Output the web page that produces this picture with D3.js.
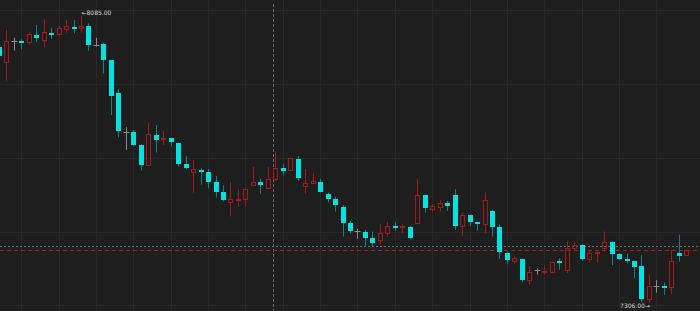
<!DOCTYPE html>
<html>
<head>
<meta charset="utf-8">
<script src="https://cdn.jsdelivr.net/npm/d3@7"></script>
<style>
  body { margin: 0; background: #1e1e1e; }
  #graph { width: 700px; height: 311px; }
</style>
</head>
<body>
<div id="graph"></div>
<script>
// ohlc values
const open = [
  8002, 7959, 8017, 8017, 8014, 8033, 8019, 8040, 8037, 8051,
  8056, 8052, 8058, 8006, 8008, 7965, 7875, 7769, 7770, 7734,
  7681, 7762, 7749, 7753, 7740, 7683, 7660, 7667, 7662, 7634,
  7607, 7579, 7586, 7589, 7626, 7635, 7619, 7644, 7672, 7666,
  7697, 7622, 7631, 7635, 7603, 7587, 7567, 7523, 7501, 7499,
  7483, 7475, 7494, 7514, 7510, 7512, 7522, 7599, 7562, 7567,
  7578, 7600, 7516, 7545, 7525, 7520, 7557, 7513, 7442, 7421,
  7426, 7368, 7395, 7390, 7391, 7419, 7394, 7455, 7463, 7425,
  7440, 7456, 7471, 7439, 7425, 7419, 7407, 7317, 7352, 7353,
  7350, 7443, 7436
];
const close = [
  7977, 8017, 8017, 8011, 8035, 8026, 8041, 8036, 8052, 8058,
  8051, 8058, 8007, 8006, 7965, 7866, 7771, 7769, 7736, 7681,
  7764, 7748, 7753, 7742, 7683, 7671, 7669, 7661, 7634, 7607,
  7586, 7587, 7588, 7616, 7635, 7628, 7643, 7673, 7664, 7699,
  7646, 7631, 7637, 7608, 7589, 7571, 7523, 7500, 7501, 7483,
  7470, 7495, 7514, 7510, 7514, 7481, 7599, 7563, 7569, 7577,
  7571, 7517, 7546, 7525, 7520, 7585, 7514, 7445, 7424, 7428,
  7368, 7389, 7395, 7394, 7417, 7415, 7455, 7463, 7425, 7441,
  7444, 7471, 7438, 7426, 7419, 7404, 7318, 7353, 7352, 7350,
  7420, 7436, 7450
];
const high = [
  8009, 8047, 8026, 8022, 8041, 8061, 8076, 8052, 8059, 8074,
  8074, 8085, 8065, 8026, 8013, 7966, 7887, 7783, 7776, 7736,
  7796, 7789, 7774, 7754, 7741, 7705, 7694, 7672, 7669, 7651,
  7626, 7634, 7615, 7619, 7675, 7644, 7675, 7717, 7683, 7700,
  7705, 7670, 7657, 7643, 7606, 7595, 7572, 7529, 7507, 7504,
  7500, 7520, 7526, 7525, 7520, 7515, 7644, 7601, 7574, 7584,
  7583, 7615, 7552, 7545, 7526, 7606, 7558, 7520, 7444, 7434,
  7426, 7406, 7400, 7408, 7418, 7428, 7474, 7472, 7465, 7447,
  7449, 7500, 7474, 7441, 7441, 7420, 7436, 7384, 7368, 7362,
  7450, 7492, 7452
];
const low = [
  7974, 7909, 7991, 7995, 8007, 8014, 7999, 8023, 8031, 8040,
  8038, 8040, 7991, 8002, 7929, 7816, 7756, 7721, 7734, 7665,
  7681, 7714, 7735, 7731, 7676, 7669, 7605, 7627, 7617, 7592,
  7582, 7541, 7568, 7568, 7625, 7602, 7619, 7637, 7652, 7666,
  7638, 7603, 7628, 7606, 7579, 7554, 7486, 7495, 7480, 7459,
  7459, 7466, 7486, 7502, 7495, 7480, 7522, 7551, 7554, 7554,
  7556, 7504, 7489, 7515, 7502, 7495, 7486, 7426, 7411, 7411,
  7364, 7356, 7383, 7383, 7386, 7396, 7387, 7446, 7422, 7415,
  7415, 7445, 7409, 7423, 7414, 7373, 7310, 7306, 7334, 7328,
  7330, 7418, 7435
];

// reference lines
const lastPrice = 7450;
const prevPrice = 7461;
const gridPrices = [8100, 7900, 7700, 7500, 7300];
const cursorIndex = 36.7;

const width = 700;
const height = 311;

const upColor = "#9e1c1c";
const downColor = "#00e3e3";
const downWick = "#0d8383";
const dojiColor = "#8a8a8a";

const data = open.map((o, i) => ({ i: i, o: o, h: high[i], l: low[i], c: close[i] }));

const hiIdx = d3.maxIndex(data, (d) => d.h);
const loIdx = d3.minIndex(data, (d) => d.l);

const x = d3.scaleLinear().domain([0, data.length - 1]).range([-1.2, 686.3]);
const y = d3
  .scaleLinear()
  .domain([data[loIdx].l, data[hiIdx].h])
  .range([303, 16]);

const px = (v) => Math.round(v) + 0.5;

const svg = d3
  .select("#graph")
  .append("svg")
  .attr("width", width)
  .attr("height", height)
  .style("display", "block")
  .style("font-family", "'DejaVu Sans', sans-serif");

svg.append("rect").attr("width", width).attr("height", height).attr("fill", "#1e1e1e");

// grid
svg
  .append("g")
  .selectAll("line")
  .data(gridPrices)
  .enter()
  .append("line")
  .attr("x1", 0)
  .attr("x2", width)
  .attr("y1", (d) => px(y(d)))
  .attr("y2", (d) => px(y(d)))
  .attr("stroke", "#282828");

svg
  .append("g")
  .selectAll("line")
  .data(data.filter((d) => d.i % 5 === 3))
  .enter()
  .append("line")
  .attr("x1", (d) => px(x(d.i)))
  .attr("x2", (d) => px(x(d.i)))
  .attr("y1", 0)
  .attr("y2", height)
  .attr("stroke", "#282828");

// cursor line
svg
  .append("line")
  .attr("x1", px(x(cursorIndex)))
  .attr("x2", px(x(cursorIndex)))
  .attr("y1", 4)
  .attr("y2", height)
  .attr("stroke", "#6a6a6a")
  .attr("stroke-dasharray", "3,2");

// price lines
svg
  .append("line")
  .attr("x1", 0)
  .attr("x2", width)
  .attr("y1", px(y(prevPrice)))
  .attr("y2", px(y(prevPrice)))
  .attr("stroke", "#6e6e6e")
  .attr("stroke-dasharray", "2,2");

svg
  .append("line")
  .attr("x1", 0)
  .attr("x2", width)
  .attr("y1", px(y(lastPrice)))
  .attr("y2", px(y(lastPrice)))
  .attr("stroke", "#a41e1e")
  .attr("stroke-dasharray", "4,3");

// candles
const candles = svg
  .append("g")
  .selectAll("g")
  .data(data)
  .enter()
  .append("g");

candles.each(function (d) {
  const g = d3.select(this);
  const cx = px(x(d.i));
  const top = y(Math.max(d.o, d.c));
  const bot = y(Math.min(d.o, d.c));

  if (d.o === d.c) {
    g.append("line")
      .attr("x1", cx).attr("x2", cx)
      .attr("y1", y(d.h)).attr("y2", y(d.l))
      .attr("stroke", dojiColor);
    g.append("line")
      .attr("x1", cx - 3).attr("x2", cx + 3)
      .attr("y1", px(top)).attr("y2", px(top))
      .attr("stroke", dojiColor);
  } else if (d.c > d.o) {
    // hollow up candle
    g.append("line")
      .attr("x1", cx).attr("x2", cx)
      .attr("y1", y(d.h)).attr("y2", top)
      .attr("stroke", upColor);
    g.append("line")
      .attr("x1", cx).attr("x2", cx)
      .attr("y1", bot).attr("y2", y(d.l))
      .attr("stroke", upColor);
    g.append("rect")
      .attr("x", cx - 2)
      .attr("y", Math.round(top) + 0.5)
      .attr("width", 4)
      .attr("height", Math.max(1, Math.round(bot - top)))
      .attr("fill", "none")
      .attr("stroke", upColor);
  } else {
    // filled down candle
    g.append("line")
      .attr("x1", cx).attr("x2", cx)
      .attr("y1", y(d.h)).attr("y2", y(d.l))
      .attr("stroke", downWick);
    g.append("rect")
      .attr("x", cx - 2.5)
      .attr("y", Math.round(top))
      .attr("width", 5)
      .attr("height", Math.max(2, Math.round(bot - top)))
      .attr("fill", downColor);
  }
});

// high / low marks
svg
  .append("text")
  .attr("x", x(hiIdx) + 0.5)
  .attr("y", y(data[hiIdx].h) - 1)
  .attr("fill", "#d4d4d4")
  .attr("font-size", 6)
  .text("\u2190" + data[hiIdx].h.toFixed(2));

svg
  .append("text")
  .attr("x", x(loIdx) + 1)
  .attr("y", y(data[loIdx].l) + 4.5)
  .attr("text-anchor", "end")
  .attr("fill", "#d4d4d4")
  .attr("font-size", 6)
  .text(data[loIdx].l.toFixed(2) + "\u2192");
</script>
</body>
</html>
